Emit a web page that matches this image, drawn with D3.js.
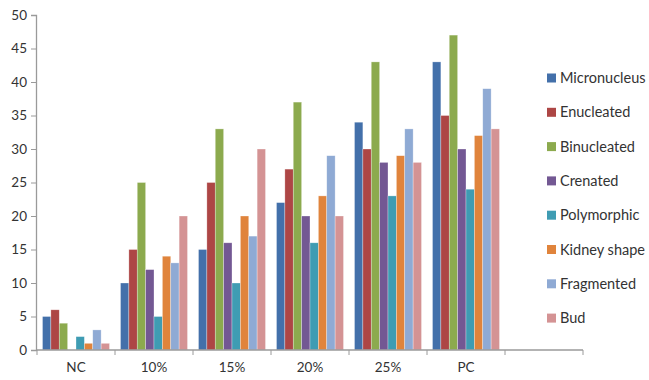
<!DOCTYPE html>
<html><head><meta charset="utf-8">
<script src="https://cdn.jsdelivr.net/npm/d3@7"></script>
<style>body{margin:0;background:#fff}text{font-family:Lato,"Open Sans",sans-serif;fill:#333}</style>
</head><body><svg id="c" width="649" height="380"></svg>
<script>
const categories = ["NC","10%","15%","20%","25%","PC",""];
const seriesNames = ["Micronucleus","Enucleated","Binucleated","Crenated","Polymorphic","Kidney shape","Fragmented","Bud"];
const Micronucleus = [5,10,15,22,34,43];
const Enucleated   = [6,15,25,27,30,35];
const Binucleated  = [4,25,33,37,43,47];
const Crenated     = [0,12,16,20,28,30];
const Polymorphic  = [2,5,10,16,23,24];
const KidneyShape  = [1,14,20,23,29,32];
const Fragmented   = [3,13,17,29,33,39];
const Bud          = [1,20,30,20,28,33];
const yTicks = [0,5,10,15,20,25,30,35,40,45,50];
const colors = ["#4370AA","#AD4645","#8CAA4E","#735893","#3F9CB3","#E0843C","#8FAAD4","#D49394"];
const seriesValues = [Micronucleus,Enucleated,Binucleated,Crenated,Polymorphic,KidneyShape,Fragmented,Bud];

const svg = d3.select("#c");
const x0 = d3.scaleBand().domain(categories).range([37,583]).paddingInner(0).paddingOuter(0);
const x1 = d3.scaleBand().domain(seriesNames).range([5.5, x0.bandwidth()-5.5]).padding(0);
const y = d3.scaleLinear().domain([0,50]).range([350,15]);

// y axis
const ya = svg.append("g").attr("transform","translate(36,0)")
  .call(d3.axisLeft(y).tickValues(yTicks).tickSize(5).tickPadding(4));
ya.select(".domain").attr("stroke","#9a9a9a").attr("stroke-width",1.3);
ya.selectAll(".tick line").attr("stroke","#9a9a9a");
ya.selectAll(".tick text").style("font-size","13.5px").style("font-family","Lato,sans-serif").attr("fill","#333");

// bars
const g = svg.append("g");
categories.forEach((c,ci)=>{
  seriesNames.forEach((s,si)=>{
    const v = seriesValues[si][ci];
    if (v===undefined) return;
    g.append("rect")
      .attr("x", x0(c)+x1(s))
      .attr("y", y(v))
      .attr("width", x1.bandwidth())
      .attr("height", y(0)-y(v))
      .attr("fill", colors[si])
      .attr("stroke","rgba(255,255,255,0.5)").attr("stroke-width",0.6);
  });
});

// x axis
const xa = svg.append("g").attr("transform","translate(0,350)");
xa.append("line").attr("x1",36).attr("x2",583).attr("y1",0).attr("y2",0)
  .attr("stroke","#9a9a9a").attr("stroke-width",1.3);
const bounds = categories.map(c=>x0(c)).concat([x0(categories[categories.length-1])+x0.bandwidth()]);
xa.selectAll("line.t").data(bounds).enter().append("line").attr("class","t")
  .attr("x1",d=>d).attr("x2",d=>d).attr("y1",0).attr("y2",5).attr("stroke","#9a9a9a");
xa.selectAll("text").data(categories).enter().append("text")
  .attr("x",d=>x0(d)+x0.bandwidth()/2).attr("y",22)
  .attr("text-anchor","middle").style("font-size","13.5px").text(d=>d);

// legend
const lg = svg.append("g");
seriesNames.forEach((s,i)=>{
  const yy = 78 + i*34.3;
  lg.append("rect").attr("x",547).attr("y",yy-4.5).attr("width",9).attr("height",9).attr("fill",colors[i]);
  lg.append("text").attr("x",560).attr("y",yy+5).style("font-size","14.5px").text(s);
});
</script></body></html>
